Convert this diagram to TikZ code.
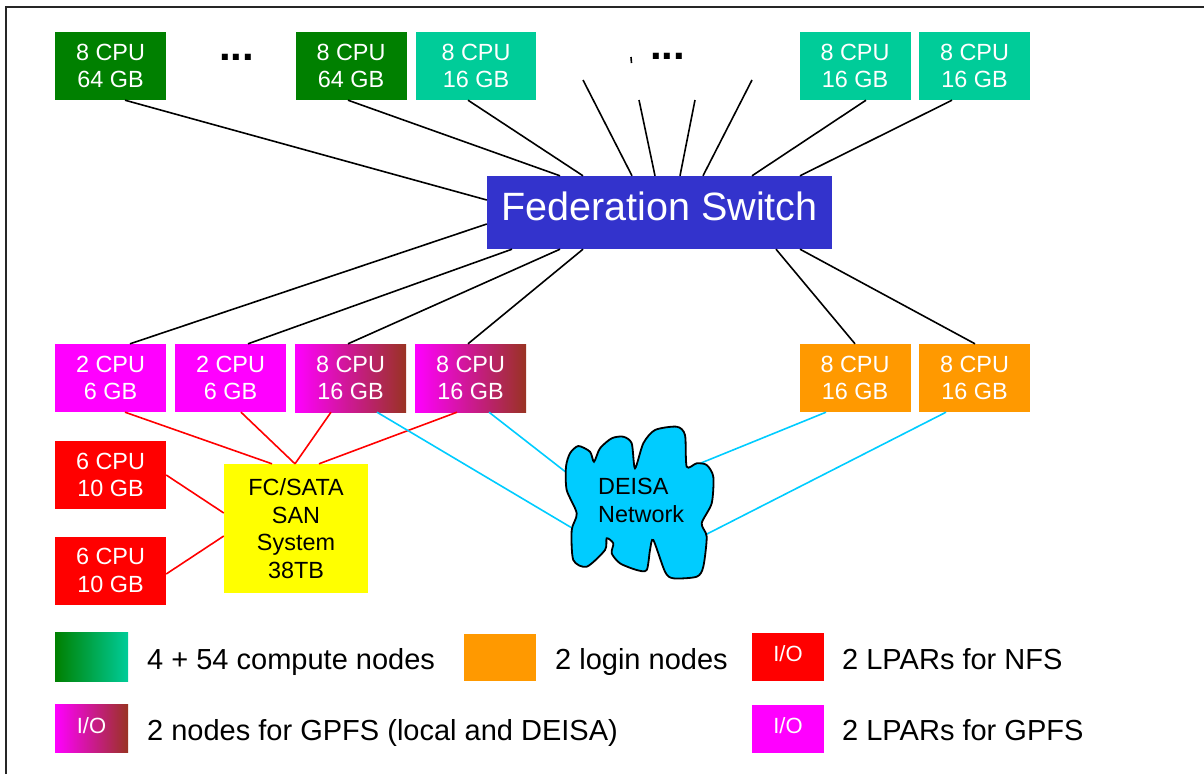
\documentclass[tikz,border=0pt]{standalone}
\usepackage{fontspec}
\setmainfont{Liberation Sans}
\usetikzlibrary{calc}
\definecolor{dkgreen}{RGB}{0,128,0}
\definecolor{cteal}{RGB}{0,204,153}
\definecolor{cmag}{RGB}{255,0,255}
\definecolor{cbrown}{RGB}{153,51,34}
\definecolor{corange}{RGB}{255,153,0}
\definecolor{cred}{RGB}{255,0,0}
\definecolor{cyellow}{RGB}{255,255,0}
\definecolor{cblue}{RGB}{51,51,204}
\definecolor{ccyan}{RGB}{0,204,255}
\tikzset{
  box/.style={rectangle, inner sep=0pt, minimum width=111pt, minimum height=68pt,
    text=white, align=center, font=\fontsize{23.4}{27.6}\selectfont},
  gpfs/.style={left color=cmag, middle color=cmag!75!cbrown, right color=cbrown},
  conn/.style={draw=black, line width=1.6pt},
  redl/.style={draw=cred, line width=1.6pt},
  cyanl/.style={draw=ccyan, line width=1.6pt},
  legbox/.style={rectangle, inner sep=0pt, minimum width=72pt, minimum height=48pt,
    text=white, font=\fontsize{22}{24}\selectfont, text height=16pt, text depth=6.2pt},
  legtext/.style={anchor=base west, inner sep=0pt, font=\fontsize{29}{32}\selectfont},
  dots/.style={anchor=base west, inner sep=0pt, font=\fontsize{42}{44}\selectfont\bfseries},
  cloudshape/.style={draw=black, fill=ccyan, line width=1.8pt},
}
\begin{document}
\begin{tikzpicture}[x=1pt,y=-1pt]
\useasboundingbox (0,0) rectangle (1204,774);
\draw[line width=2pt, black!85] (6,774) -- (6,7) -- (1204,7);

% top row
\node[box, fill=dkgreen] (G1) at (110.5,66) {8 CPU\\64 GB};
\node[box, fill=dkgreen] (G2) at (351,66) {8 CPU\\64 GB};
\node[box, fill=cteal, minimum width=120pt] (T1) at (476,66) {8 CPU\\16 GB};
\node[box, fill=cteal] (T2) at (855,66) {8 CPU\\16 GB};
\node[box, fill=cteal] (T3) at (974.5,66) {8 CPU\\16 GB};
\node[dots] (d1) at (219,60) {...};
\node[dots] (d2) at (650,59) {...};

% switch
\node[rectangle, fill=cblue, minimum width=345pt, minimum height=73pt, inner sep=0pt,
  text=white, font=\fontsize{39.5}{42}\selectfont, text height=28.3pt, text depth=13.3pt] (FS) at (659.5,212.5) {Federation Switch};

% second row
\node[box, fill=cmag] (M1) at (110.5,378) {2 CPU\\6 GB};
\node[box, fill=cmag] (M2) at (230.5,378) {2 CPU\\6 GB};
\node[box, gpfs] (M3) at (350.5,378) {8 CPU\\16 GB};
\node[box, gpfs] (M4) at (470.5,378) {8 CPU\\16 GB};
\node[box, fill=corange] (O1) at (855,378) {8 CPU\\16 GB};
\node[box, fill=corange] (O2) at (974.5,378) {8 CPU\\16 GB};

% NFS and SAN
\node[box, fill=cred] (R1) at (110.5,475) {6 CPU\\10 GB};
\node[box, fill=cred] (R2) at (110.5,570.5) {6 CPU\\10 GB};
\node[box, fill=cyellow, text=black, minimum width=144pt, minimum height=129pt] (SAN) at (296,528.5) {FC/SATA\\SAN\\System\\38TB};

% stub coordinates
\coordinate (s1) at (583,80);
\coordinate (s2) at (639,100);
\coordinate (s3) at (695,100);
\coordinate (s4) at (752,80);
\coordinate (t1) at (631,57);
\coordinate (t2) at (631.5,63);

% black connectors
\draw[conn] ($(G1.south)+(14.5,0)$) -- ($(FS.west)+(0,-12.5)$);
\draw[conn] ($(G2.south)+(-3,0)$) -- ($(FS.north)+(-99.5,0)$);
\draw[conn] ($(T1.south)+(-8,0)$) -- ($(FS.north)+(-76.5,0)$);
\draw[conn] (s1) -- ($(FS.north)+(-27.5,0)$);
\draw[conn] (s2) -- ($(FS.north)+(-4.5,0)$);
\draw[conn] (s3) -- ($(FS.north)+(20.5,0)$);
\draw[conn] (s4) -- ($(FS.north)+(43.5,0)$);
\draw[conn] (t1) -- (t2);
\draw[conn] ($(T2.south)+(11,0)$) -- ($(FS.north)+(92.5,0)$);
\draw[conn] ($(T3.south)+(-22.5,0)$) -- ($(FS.north)+(140.5,0)$);
\draw[conn] ($(M1.north)+(19.5,0)$) -- ($(FS.west)+(0,11.5)$);
\draw[conn] ($(M2.north)+(17.5,0)$) -- ($(FS.south)+(-147.5,0)$);
\draw[conn] ($(M3.north)+(-2.5,0)$) -- ($(FS.south)+(-99.5,0)$);
\draw[conn] ($(M4.north)+(-2.5,0)$) -- ($(FS.south)+(-76.5,0)$);
\draw[conn] (O1.north) -- ($(FS.south)+(116.5,0)$);
\draw[conn] ($(O2.north)+(0.5,0)$) -- ($(FS.south)+(140.5,0)$);

% red connectors
\draw[redl] ($(M1.south)+(14.5,0)$) -- ($(SAN.north)+(-24,0)$);
\draw[redl] ($(M2.south)+(10.5,0)$) -- ($(SAN.north)+(-1,0)$);
\draw[redl] ($(M3.south)+(-19.5,0)$) -- ($(SAN.north)+(-1,0)$);
\draw[redl] ($(M4.south)+(-13.5,0)$) -- ($(SAN.north)+(23,0)$);
\draw[redl] (R1.east) -- ($(SAN.west)+(0,-15.5)$);
\draw[redl] ($(R2.east)+(0,3.5)$) -- ($(SAN.west)+(0,7.5)$);

% cloud attachment points
\coordinate (c1) at (572,528);
\coordinate (c2) at (567,473);
\coordinate (c3) at (701,463);
\coordinate (c4) at (705,535);
\draw[cyanl] ($(M3.south)+(26.5,0)$) -- (c1);
\draw[cyanl] ($(M4.south)+(18.5,0)$) -- (c2);
\draw[cyanl] (c3) -- ($(O1.south)+(-29,0)$);
\draw[cyanl] (c4) -- ($(O2.south)+(-28.5,0)$);

% DEISA cloud
\draw[cloudshape] plot[smooth cycle, tension=0.45] coordinates {
 (578.3,446) (590,451.7) (594,461.7) (600,448.3) (611.7,438.3) (623.3,436.7)
 (631.7,443.3) (635,468.3) (643.3,443.3) (655,430) (676.7,426.7) (685,435)
 (686.7,466.7) (696.7,463.3) (706.7,465) (713.3,476.7) (711.7,503.3) (701.7,523.3)
 (706.7,536.7) (703.3,566.7) (696.7,576.7) (673.3,578.3) (665,571.7) (653.3,540)
 (650,550) (646.7,570) (636.7,570) (620,563.3) (611.7,553.3) (613.3,543.3)
 (606.7,538.3) (605,550) (586.7,566.7) (573.3,560) (571.7,530) (576.7,513.3)
 (566.7,490) (566,466.7) (570,453.3)};
\node[anchor=west, inner sep=0pt, align=left, font=\fontsize{23.4}{28}\selectfont] (deisa) at (598,500) {DEISA\\Network};

% legend
\node[legbox, left color=dkgreen, right color=cteal, minimum width=73pt, minimum height=49pt] (L1) at (91.5,656.5) {};
\node[legtext] (L1t) at (147,669) {4 + 54 compute nodes};
\node[legbox, fill=corange, minimum height=47pt] (L2) at (500,657.5) {};
\node[legtext] (L2t) at (555,669) {2 login nodes};
\node[legbox, fill=cred] (L3) at (788,657) {I/O};
\node[legtext] (L3t) at (842,669) {2 LPARs for NFS};
\node[legbox, gpfs, minimum width=73pt] (L4) at (91.5,728.5) {I/O};
\node[legtext] (L4t) at (147,740) {2 nodes for GPFS (local and DEISA)};
\node[legbox, fill=cmag] (L5) at (788,729) {I/O};
\node[legtext] (L5t) at (842,740) {2 LPARs for GPFS};
\end{tikzpicture}
\end{document}
